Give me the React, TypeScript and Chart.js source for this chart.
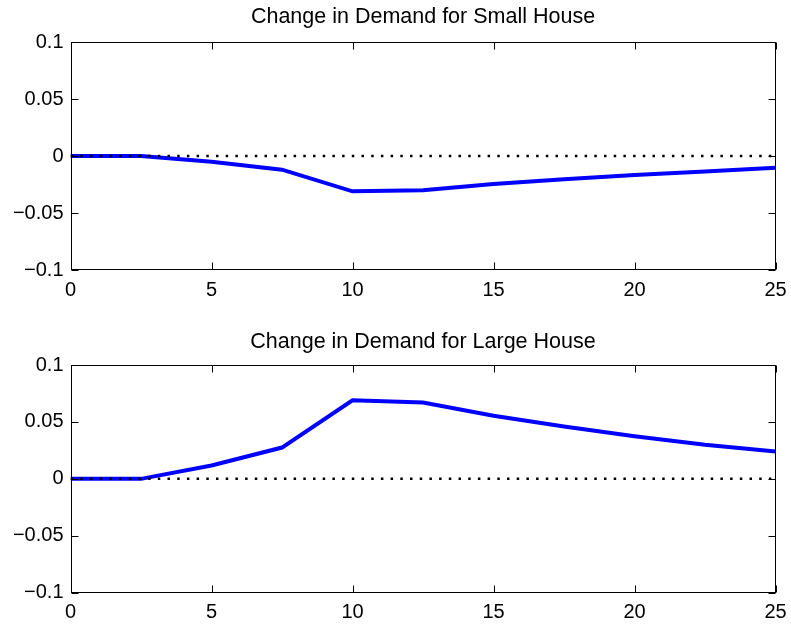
import React, { useEffect, useRef } from "react";
import { Chart, registerables } from "chart.js";

Chart.register(...registerables);

const xValues = [0, 2.5, 5, 7.5, 10, 12.5, 15, 17.5, 20, 22.5, 25];
const smallHouse = [0, 0, -0.005, -0.012, -0.031, -0.030, -0.0245, -0.0205, -0.0167, -0.0135, -0.0103];
const largeHouse = [0, 0, 0.0117, 0.0275, 0.069, 0.067, 0.0555, 0.046, 0.0375, 0.030, 0.024];
const xTickValues = [0, 5, 10, 15, 20, 25];
const yTickValues = [-0.1, -0.05, 0, 0.05, 0.1];
const yTickLabels = ["\u22120.1", "\u22120.05", "0", "0.05", "0.1"];
const titles = ["Change in Demand for Small House", "Change in Demand for Large House"];

const FONT = "'Liberation Sans', Arial, Helvetica, sans-serif";
const W = 791;

type PanelSpec = {
  title: string;
  values: number[];
  height: number;
  top: number;
  xAxisHeight: number;
  titleY: number;
};

function Panel({ spec }: { spec: PanelSpec }) {
  const ref = useRef<HTMLCanvasElement | null>(null);
  useEffect(() => {
    const canvas = ref.current;
    if (!canvas) return;
    const framePlugin = {
      id: "frame",
      afterDraw(chart: any) {
        const { ctx, chartArea } = chart;
        const xs = chart.scales.x;
        const ys = chart.scales.y;
        const l = Math.round(chartArea.left) + 0.5;
        const r = Math.round(chartArea.right) - 0.5;
        const t = Math.round(chartArea.top) + 0.5;
        const b = Math.round(chartArea.bottom) - 0.5;
        ctx.save();
        ctx.strokeStyle = "#000";
        ctx.lineWidth = 1;
        ctx.strokeRect(l, t, r - l, b - t);
        ctx.beginPath();
        const tl = 7;
        xTickValues.forEach((v) => {
          const px = Math.round(xs.getPixelForValue(v)) + 0.5;
          ctx.moveTo(px, b);
          ctx.lineTo(px, b - tl);
          ctx.moveTo(px, t);
          ctx.lineTo(px, t + tl);
        });
        yTickValues.forEach((v) => {
          const py = Math.round(ys.getPixelForValue(v)) + 0.5;
          ctx.moveTo(l, py);
          ctx.lineTo(l + tl, py);
          ctx.moveTo(r, py);
          ctx.lineTo(r - tl, py);
        });
        ctx.stroke();
        ctx.fillStyle = "#000";
        ctx.font = `21.5px ${FONT}`;
        ctx.textAlign = "center";
        ctx.textBaseline = "middle";
        ctx.fillText(spec.title, (chartArea.left + chartArea.right) / 2, spec.titleY);
        ctx.restore();
      },
    };
    const chart = new Chart(canvas, {
      type: "line",
      data: {
        datasets: [
          {
            data: [
              { x: xTickValues[0], y: 0 },
              { x: xTickValues[xTickValues.length - 1], y: 0 },
            ],
            borderColor: "#000",
            borderWidth: 2.5,
            borderDash: [2.5, 7.2],
            pointRadius: 0,
            fill: false,
          },
          {
            data: xValues.map((x, i) => ({ x, y: spec.values[i] })),
            borderColor: "#0000ff",
            borderWidth: 4,
            pointRadius: 0,
            tension: 0,
            fill: false,
          },
        ],
      },
      options: {
        responsive: false,
        animation: false,
        events: [],
        layout: { padding: { top: spec.top, right: 15.5, left: 0, bottom: 0 } },
        plugins: { legend: { display: false }, title: { display: false }, tooltip: { enabled: false } },
        scales: {
          x: {
            type: "linear",
            min: 0,
            max: 25,
            grid: { display: false, drawTicks: false },
            border: { display: false },
            afterBuildTicks: (scale: any) => {
              scale.ticks = xTickValues.map((v) => ({ value: v }));
            },
            ticks: {
              color: "#000",
              font: { size: 20, family: FONT },
              padding: 8,
              maxRotation: 0,
              autoSkip: false,
              callback: (v: any) => String(v),
            },
            afterFit: (scale: any) => {
              scale.height = spec.xAxisHeight;
              scale.paddingLeft = 0;
              scale.paddingRight = 0;
            },
          },
          y: {
            type: "linear",
            min: -0.1,
            max: 0.1,
            grid: { display: false, drawTicks: false },
            border: { display: false },
            afterBuildTicks: (scale: any) => {
              scale.ticks = yTickValues.map((v) => ({ value: v }));
            },
            ticks: {
              color: "#000",
              font: { size: 20, family: FONT },
              padding: 7,
              autoSkip: false,
              callback: (_v: any, i: number) => yTickLabels[i],
            },
            afterFit: (scale: any) => {
              scale.width = 70.5;
              scale.paddingTop = 0;
              scale.paddingBottom = 0;
            },
          },
        },
      },
      plugins: [framePlugin],
    } as any);
    return () => chart.destroy();
  }, [spec]);
  return <canvas ref={ref} width={W} height={spec.height} style={{ display: "block" }} />;
}

const specs: PanelSpec[] = [
  { title: titles[0], values: smallHouse, height: 313, top: 42, xAxisHeight: 43, titleY: 17.5 },
  { title: titles[1], values: largeHouse, height: 314, top: 52, xAxisHeight: 34.3, titleY: 28.7 },
];

export default function App() {
  return (
    <div style={{ position: "absolute", left: 0, top: 0, width: W, height: 627, background: "#fff" }}>
      {specs.map((s, i) => (
        <Panel key={i} spec={s} />
      ))}
    </div>
  );
}
